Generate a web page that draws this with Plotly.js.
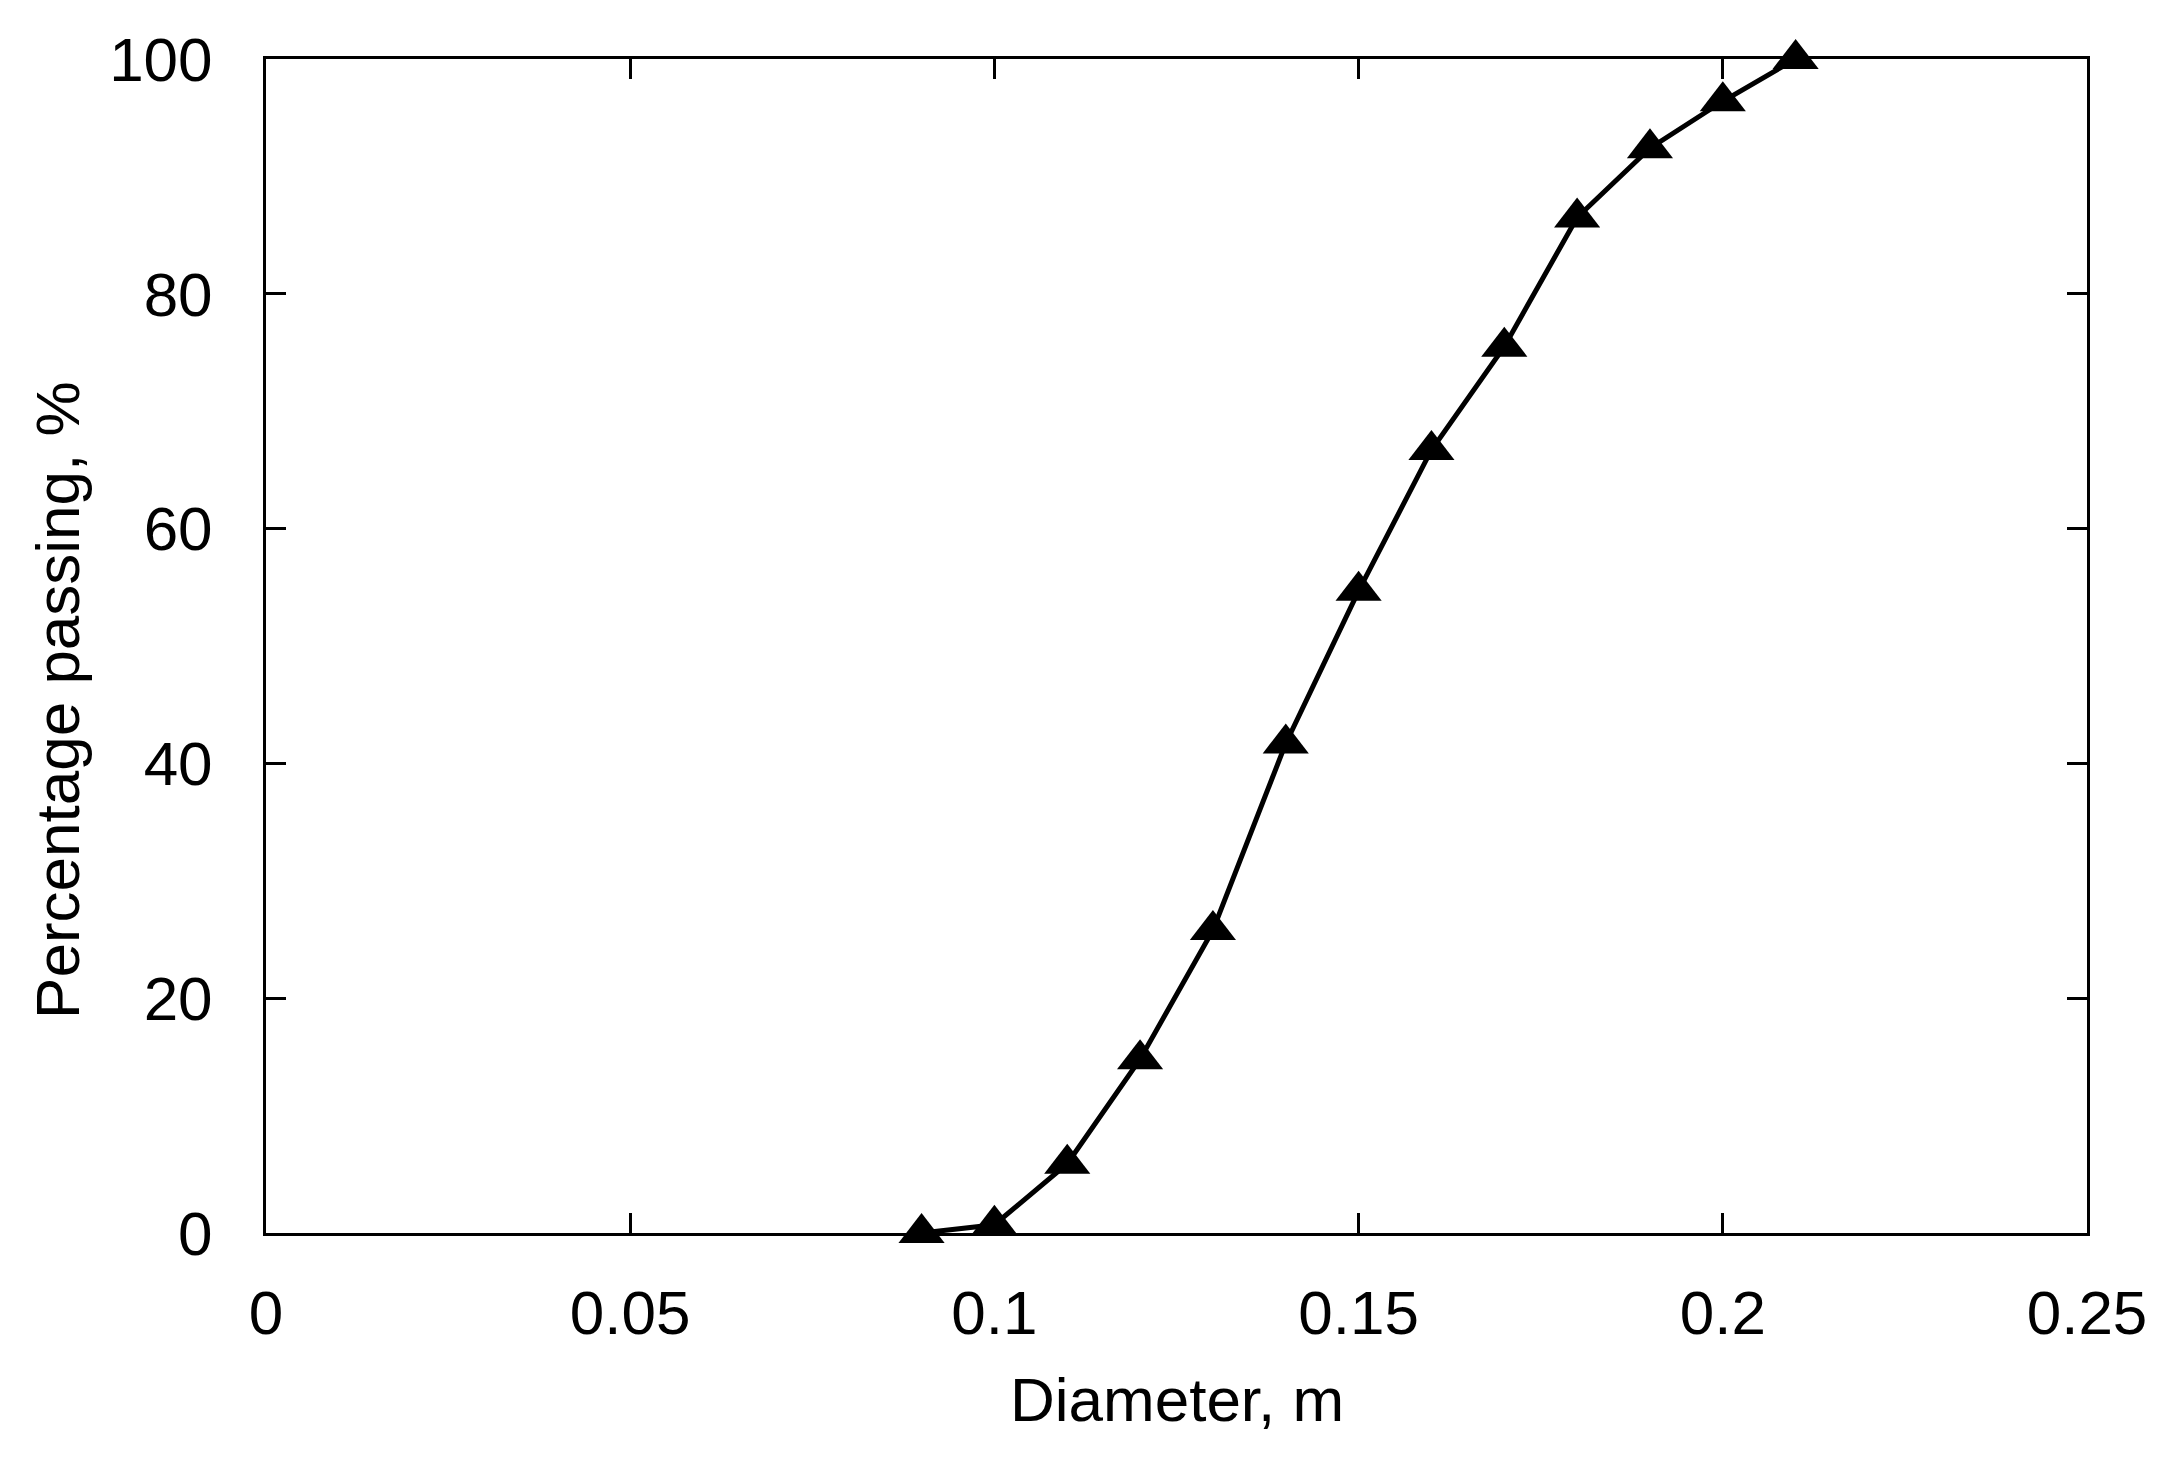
<!DOCTYPE html>
<html>
<head>
<meta charset="utf-8">
<script src="https://cdn.plot.ly/plotly-3.0.1.min.js"></script>
<style>
  html, body { margin: 0; padding: 0; background: #fff; }
  #chart { width: 2179px; height: 1459px; }
</style>
</head>
<body>
<div id="chart"></div>
<script>
// diameter (m) vs percentage passing (%)
var diameter = [0.09, 0.10, 0.11, 0.12, 0.13, 0.14, 0.15, 0.16, 0.17, 0.18, 0.19, 0.20, 0.21];
var passing = [0, 0.7, 5.9, 14.8, 25.8, 41.7, 54.7, 66.7, 75.5, 86.5, 92.4, 96.4, 100];

var xTicks = [0, 0.05, 0.1, 0.15, 0.2, 0.25];
var xTickText = ["0", "0.05", "0.1", "0.15", "0.2", "0.25"];
var yTicks = [0, 20, 40, 60, 80, 100];
var yTickText = ["0", "20", "40", "60", "80", "100"];

var font = "Liberation Sans, Arial, sans-serif";

var axisCommon = {
  showline: true,
  linecolor: "#000",
  linewidth: 3,
  mirror: "ticks",
  ticks: "inside",
  ticklen: 20,
  tickwidth: 3,
  tickcolor: "#000",
  showgrid: false,
  zeroline: false,
  tickfont: { family: font, size: 62, color: "#000" },
  fixedrange: true,
};

Plotly.newPlot(
  "chart",
  [
    {
      x: diameter,
      y: passing,
      mode: "lines+markers",
      line: { color: "#000", width: 5 },
      marker: { symbol: "triangle-up", size: 40, color: "#000" },
      cliponaxis: false,
      showlegend: false,
    },
  ],
  {
    width: 2179,
    height: 1459,
    margin: { l: 266, r: 92, t: 59, b: 226 },
    paper_bgcolor: "#fff",
    plot_bgcolor: "#fff",
    xaxis: Object.assign({}, axisCommon, {
      range: [0, 0.25],
      tickvals: xTicks,
      ticktext: xTickText,
      ticklabelstandoff: 24,
    }),
    yaxis: Object.assign({}, axisCommon, {
      range: [0, 100],
      tickvals: yTicks,
      ticktext: yTickText,
      ticklabelstandoff: 38,
    }),
    annotations: [
      {
        text: "Diameter, m",
        xref: "paper", yref: "paper",
        x: 0.5, y: -0.1418,
        xanchor: "center", yanchor: "middle",
        showarrow: false,
        font: { family: font, size: 62, color: "#000" },
      },
      {
        text: "Percentage passing, %",
        xref: "paper", yref: "paper",
        x: -0.1148, y: 0.454,
        xanchor: "center", yanchor: "middle",
        textangle: -90,
        showarrow: false,
        font: { family: font, size: 62, color: "#000" },
      },
    ],
  },
  { displayModeBar: false, staticPlot: true }
);
</script>
</body>
</html>
